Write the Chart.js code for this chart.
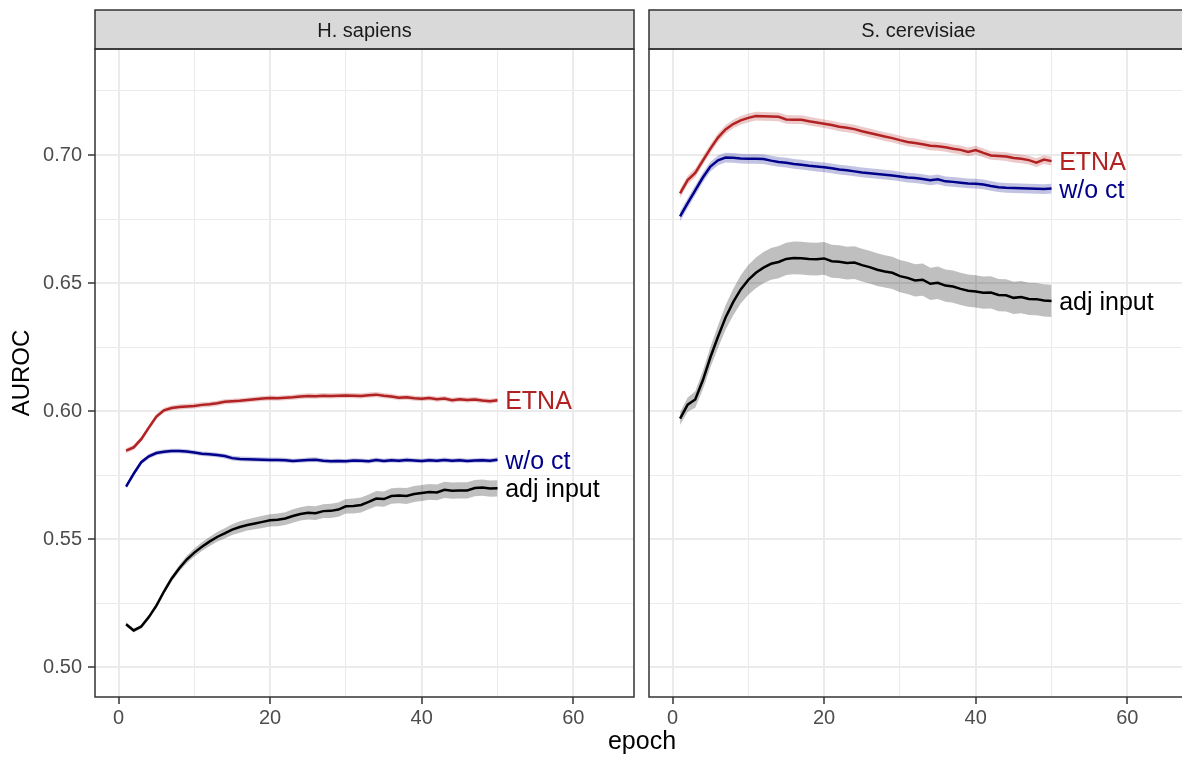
<!DOCTYPE html>
<html>
<head>
<meta charset="utf-8">
<script src="https://cdn.jsdelivr.net/npm/chart.js@4.4.1/dist/chart.umd.min.js"></script>
<style>
  html, body { margin: 0; padding: 0; background: #fff; overflow: hidden; width: 1182px; height: 758px; }
  #wrap { position: relative; width: 1182px; height: 758px; }
  #left { position: absolute; left: 0; top: 0; }
  #right { position: absolute; left: 640px; top: 0; }
  #xtitle { position: absolute; left: 542px; width: 200px; top: 728px; text-align: center;
            font: 25px/25px 'Liberation Sans', Arial, sans-serif; color: #000; }
</style>
</head>
<body>
<div id="wrap">
  <canvas id="left" width="640" height="758"></canvas>
  <canvas id="right" width="556" height="758"></canvas>
  <div id="xtitle">epoch</div>
</div>
<script>
// epochs 1..50
const epochs = [1,2,3,4,5,6,7,8,9,10,11,12,13,14,15,16,17,18,19,20,21,22,23,24,25,
  26,27,28,29,30,31,32,33,34,35,36,37,38,39,40,41,42,43,44,45,46,47,48,49,50];

// H. sapiens
const hsEtna = [0.5845,0.5858,0.5890,0.5935,0.5978,0.6003,0.6012,0.6016,0.6018,0.6020,
  0.6024,0.6026,0.6030,0.6036,0.6038,0.6040,0.6043,0.6046,0.6049,0.6051,
  0.6050,0.6052,0.6054,0.6057,0.6059,0.6058,0.6060,0.6059,0.6060,0.6061,
  0.6060,0.6059,0.6062,0.6064,0.6060,0.6057,0.6052,0.6054,0.6050,0.6048,
  0.6051,0.6046,0.6049,0.6042,0.6046,0.6043,0.6045,0.6041,0.6038,0.6042];
const hsWoct = [0.5705,0.5755,0.5800,0.5823,0.5836,0.5841,0.5844,0.5844,0.5842,0.5838,
  0.5833,0.5831,0.5828,0.5824,0.5816,0.5813,0.5812,0.5811,0.5810,0.5809,
  0.5809,0.5808,0.5805,0.5807,0.5809,0.5810,0.5806,0.5804,0.5805,0.5804,
  0.5807,0.5806,0.5804,0.5809,0.5805,0.5808,0.5806,0.5809,0.5807,0.5805,
  0.5808,0.5806,0.5809,0.5806,0.5808,0.5805,0.5807,0.5808,0.5806,0.5810];
const hsAdj = [0.5167,0.5143,0.5158,0.5195,0.5240,0.5295,0.5345,0.5385,0.5420,0.5447,
  0.5470,0.5490,0.5508,0.5522,0.5537,0.5547,0.5555,0.5561,0.5567,0.5573,
  0.5575,0.5580,0.5590,0.5598,0.5603,0.5601,0.5609,0.5610,0.5615,0.5628,
  0.5629,0.5633,0.5645,0.5658,0.5656,0.5668,0.5670,0.5668,0.5676,0.5680,
  0.5684,0.5682,0.5692,0.5689,0.5690,0.5690,0.5699,0.5701,0.5697,0.5698];
const hsAdjSe = [0.0008,0.0008,0.0008,0.0009,0.0010,0.0011,0.0012,0.0013,0.0015,0.0016,
  0.0017,0.0018,0.0019,0.0020,0.0021,0.0022,0.0022,0.0023,0.0024,0.0024,
  0.0025,0.0025,0.0026,0.0026,0.0027,0.0027,0.0027,0.0028,0.0028,0.0028,
  0.0029,0.0029,0.0029,0.0030,0.0030,0.0030,0.0030,0.0031,0.0031,0.0031,
  0.0031,0.0031,0.0032,0.0032,0.0032,0.0032,0.0032,0.0032,0.0032,0.0032];

// S. cerevisiae
const scEtna = [0.6850,0.6902,0.6930,0.6978,0.7025,0.7068,0.7100,0.7121,0.7135,0.7145,
  0.7152,0.7151,0.7150,0.7149,0.7139,0.7138,0.7138,0.7132,0.7127,0.7122,
  0.7117,0.7110,0.7106,0.7101,0.7093,0.7086,0.7079,0.7072,0.7066,0.7058,
  0.7051,0.7047,0.7042,0.7036,0.7034,0.7030,0.7024,0.7020,0.7012,0.7019,
  0.7008,0.6998,0.6996,0.6994,0.6988,0.6985,0.6980,0.6970,0.6982,0.6976];
const scWoct = [0.6760,0.6812,0.6862,0.6912,0.6955,0.6979,0.6990,0.6989,0.6986,0.6985,
  0.6985,0.6984,0.6978,0.6973,0.6970,0.6965,0.6962,0.6958,0.6955,0.6952,
  0.6948,0.6943,0.6940,0.6936,0.6932,0.6929,0.6926,0.6923,0.6920,0.6916,
  0.6912,0.6910,0.6906,0.6901,0.6905,0.6897,0.6895,0.6892,0.6889,0.6888,
  0.6885,0.6879,0.6874,0.6872,0.6871,0.6870,0.6869,0.6868,0.6867,0.6869];
const scAdj = [0.5970,0.6025,0.6045,0.6120,0.6210,0.6290,0.6365,0.6425,0.6475,0.6512,
  0.6540,0.6560,0.6575,0.6582,0.6594,0.6598,0.6597,0.6594,0.6593,0.6596,
  0.6585,0.6583,0.6578,0.6580,0.6570,0.6562,0.6552,0.6545,0.6540,0.6527,
  0.6520,0.6510,0.6513,0.6497,0.6501,0.6490,0.6486,0.6477,0.6470,0.6467,
  0.6462,0.6463,0.6453,0.6452,0.6442,0.6445,0.6438,0.6437,0.6432,0.6430];
const scAdjSe = [0.0025,0.0028,0.0032,0.0036,0.0040,0.0044,0.0048,0.0052,0.0055,0.0058,
  0.0060,0.0061,0.0062,0.0063,0.0063,0.0064,0.0064,0.0064,0.0064,0.0064,
  0.0064,0.0064,0.0064,0.0064,0.0064,0.0064,0.0064,0.0063,0.0063,0.0063,
  0.0063,0.0063,0.0063,0.0063,0.0063,0.0063,0.0063,0.0063,0.0063,0.0063,
  0.0063,0.0063,0.0063,0.0063,0.0063,0.0063,0.0063,0.0063,0.0063,0.0063];

// ribbon half widths of the coloured series (roughly constant)
const hsEtnaSe = 0.0010, hsWoctSe = 0.0009, scEtnaSe = 0.0017, scWoctSe = 0.0019;

const seriesNames = ['ETNA', 'w/o ct', 'adj input'];
const seriesColors = ['#B22222', '#00008B', '#000000'];
const ribbonColors = ['rgba(178,34,34,0.24)', 'rgba(0,0,139,0.24)', 'rgba(0,0,0,0.25)'];
const labelX = 51;

const xTicks = [0, 10, 20, 30, 40, 50, 60];
const xLabels = ['0', '', '20', '', '40', '', '60'];
const yTicks = [0.5, 0.525, 0.55, 0.575, 0.6, 0.625, 0.65, 0.675, 0.7, 0.725];
const yLabels = ['0.50', '', '0.55', '', '0.60', '', '0.65', '', '0.70', ''];

const FONT = "'Liberation Sans', Arial, Helvetica, sans-serif";

function pts(vals) {
  return vals.map((v, i) => ({ x: epochs[i], y: v }));
}

function seArr(se, n) {
  return Array.isArray(se) ? se : new Array(n).fill(se);
}

const panelDeco = {
  id: 'panelDeco',
  afterDatasetsDraw(chart) {
    const { ctx, scales } = chart;
    const opts = chart.options.plugins.panelDeco;
    ctx.save();
    // series labels at the end of each line
    ctx.font = '25px ' + FONT;
    ctx.textAlign = 'left';
    ctx.textBaseline = 'alphabetic';
    opts.series.forEach((vals, i) => {
      const px = scales.x.getPixelForValue(labelX);
      const py = scales.y.getPixelForValue(vals[vals.length - 1]);
      ctx.fillStyle = seriesColors[i];
      ctx.fillText(seriesNames[i], px, py + 9);
    });
    ctx.restore();
  },
  afterDraw(chart) {
    const { ctx, chartArea: a } = chart;
    const opts = chart.options.plugins.panelDeco;
    ctx.save();
    // strip
    ctx.fillStyle = '#D9D9D9';
    ctx.fillRect(a.left, 10, a.right - a.left, a.top - 10);
    ctx.strokeStyle = '#333333';
    ctx.lineWidth = 1.5;
    ctx.strokeRect(a.left, 10, a.right - a.left, a.top - 10);
    ctx.fillStyle = '#1A1A1A';
    ctx.font = '20px ' + FONT;
    ctx.textAlign = 'center';
    ctx.textBaseline = 'alphabetic';
    ctx.fillText(opts.title, (a.left + a.right) / 2, 37);
    // panel border
    ctx.strokeRect(a.left, a.top, a.right - a.left, a.bottom - a.top);
    ctx.restore();
  }
};

function makePanel(canvas, title, vals, ses, showY) {
  const datasets = [];
  vals.forEach((v, i) => {
    const se = seArr(ses[i], v.length);
    datasets.push({
      data: pts(v.map((y, k) => y - se[k])),
      borderWidth: 0, pointRadius: 0, fill: false
    });
    datasets.push({
      data: pts(v.map((y, k) => y + se[k])),
      borderWidth: 0, pointRadius: 0, fill: '-1',
      backgroundColor: ribbonColors[i]
    });
    datasets.push({
      data: pts(v),
      borderColor: seriesColors[i], borderWidth: 2.5,
      pointRadius: 0, fill: false, tension: 0
    });
  });

  return new Chart(canvas, {
    type: 'line',
    data: { datasets },
    plugins: [panelDeco],
    options: {
      responsive: false,
      animation: false,
      events: [],
      layout: { padding: { top: 49, right: showY ? 6 : 8, left: 0, bottom: 0 } },
      plugins: {
        legend: { display: false },
        tooltip: { enabled: false },
        filler: { drawTime: 'beforeDatasetsDraw' },
        panelDeco: { title, series: vals }
      },
      scales: {
        x: {
          type: 'linear',
          min: -3.1, max: 68,
          afterBuildTicks: s => { s.ticks = xTicks.map(v => ({ value: v })); },
          afterFit: s => { s.height = 61; },
          border: { display: false },
          grid: {
            color: '#EBEBEB',
            lineWidth: c => xLabels[c.index] ? 2 : 1,
            tickColor: c => xLabels[c.index] ? '#333333' : 'rgba(0,0,0,0)',
            tickWidth: 1.5,
            tickLength: 7
          },
          ticks: {
            autoSkip: false, maxRotation: 0, padding: 2,
            color: '#4D4D4D', font: { family: FONT, size: 20 },
            callback: (v, i) => xLabels[i]
          }
        },
        y: {
          type: 'linear',
          min: 0.4883, max: 0.7414,
          afterBuildTicks: s => { s.ticks = yTicks.map(v => ({ value: v })); },
          afterFit: s => { s.width = showY ? 95 : 9; },
          border: { display: false },
          grid: {
            color: '#EBEBEB',
            lineWidth: c => yLabels[c.index] ? 2 : 1,
            drawTicks: showY,
            tickColor: c => yLabels[c.index] ? '#333333' : 'rgba(0,0,0,0)',
            tickWidth: 1.5,
            tickLength: 7
          },
          ticks: {
            display: showY,
            autoSkip: false, padding: 6,
            color: '#4D4D4D', font: { family: FONT, size: 20 },
            callback: (v, i) => yLabels[i]
          },
          title: {
            display: showY, text: 'AUROC', color: '#000',
            font: { family: FONT, size: 24 },
            padding: { top: 8, bottom: 0 }
          }
        }
      }
    }
  });
}

makePanel(document.getElementById('left'), 'H. sapiens',
  [hsEtna, hsWoct, hsAdj], [hsEtnaSe, hsWoctSe, hsAdjSe], true);
makePanel(document.getElementById('right'), 'S. cerevisiae',
  [scEtna, scWoct, scAdj], [scEtnaSe, scWoctSe, scAdjSe], false);
</script>
</body>
</html>
